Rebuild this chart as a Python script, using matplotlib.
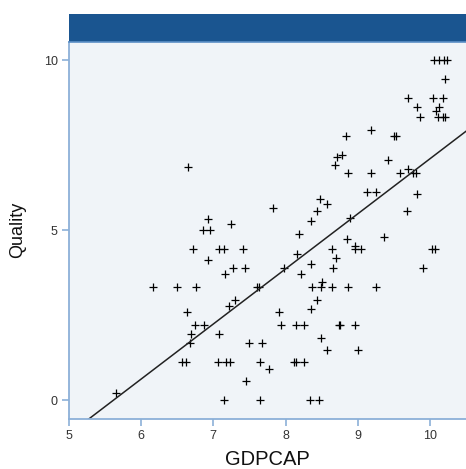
import numpy as np
import matplotlib
matplotlib.use("Agg")
import matplotlib.pyplot as plt
from matplotlib.patches import Rectangle

plt.rcParams["font.family"] = ["Liberation Sans", "DejaVu Sans"]

# GDPCAP (log) vs Quality
gdpcap = [
    10.06, 10.13, 10.20, 10.24, 10.21, 9.70, 10.04, 10.18, 9.82, 10.13,
    10.08, 9.86, 10.11, 10.18, 10.21, 8.84, 9.19, 9.50, 9.53, 8.71,
    8.78, 8.68, 9.42, 8.87, 9.19, 9.58, 9.70, 9.77, 9.81, 9.13,
    9.26, 9.82, 9.68, 8.89, 9.36, 8.85, 8.96, 8.96, 9.05, 8.64,
    10.03, 10.07, 8.70, 8.66, 9.91, 8.65, 8.87, 9.26,
    7.60, 7.63, 8.37, 8.49, 8.50, 7.22, 7.30, 8.44, 8.35, 7.91,
    6.87, 7.94, 8.15, 8.25, 8.74, 8.76, 8.96, 7.08, 7.50, 7.67,
    8.49, 8.58, 9.01, 7.07, 7.18, 7.23, 7.65, 7.77, 8.12, 8.14,
    8.25, 7.45, 7.15, 7.65, 8.34, 8.47, 8.35, 8.19, 7.41, 8.16,
    8.35, 7.98, 7.44, 8.22, 7.83, 8.48, 8.58, 8.44, 6.92, 6.85,
    6.95, 7.24, 7.08, 7.15, 6.93, 7.27, 7.16, 6.65, 6.72, 6.16,
    6.49, 6.76, 6.64, 6.75, 6.69, 6.67, 6.57, 6.62, 5.65,
]
quality = [
    10.00, 10.00, 10.00, 10.00, 9.44, 8.89, 8.89, 8.89, 8.61, 8.61,
    8.50, 8.33, 8.33, 8.33, 8.33, 7.78, 7.96, 7.78, 7.78, 7.15,
    7.22, 6.92, 7.05, 6.67, 6.67, 6.67, 6.81, 6.67, 6.67, 6.11,
    6.11, 6.06, 5.56, 5.37, 4.81, 4.74, 4.53, 4.44, 4.44, 4.44,
    4.44, 4.44, 4.17, 3.89, 3.89, 3.33, 3.33, 3.33,
    3.33, 3.33, 3.33, 3.33, 3.48, 2.76, 2.94, 2.96, 2.69, 2.59,
    2.22, 2.22, 2.22, 2.22, 2.22, 2.22, 2.22, 1.94, 1.67, 1.67,
    1.84, 1.47, 1.47, 1.11, 1.11, 1.11, 1.11, 0.91, 1.11, 1.11,
    1.11, 0.56, 0.00, 0.00, 0.00, 0.00, 5.27, 4.88, 4.44, 4.29,
    4.00, 3.89, 3.89, 3.70, 5.64, 5.93, 5.76, 5.56, 5.32, 5.00,
    5.00, 5.18, 4.44, 4.44, 4.12, 3.89, 3.70, 6.85, 4.44, 3.33,
    3.33, 3.33, 2.59, 2.22, 1.96, 1.67, 1.11, 1.11, 0.21,
]

# fit line as drawn in the reference (Quality = slope * GDPCAP + intercept)
fit_slope = 1.62
fit_intercept = -9.1

x_ticks = [5, 6, 7, 8, 9, 10]
y_ticks = [0, 5, 10]

BG = "#f0f4f8"
BAND = "#1a5590"
AXIS_BLUE = "#8cb0d8"

fig = plt.figure(figsize=(4.66, 4.69), dpi=100)
ax = fig.add_axes([0.148, 0.107, 0.852, 0.803])
ax.set_facecolor(BG)

ax.plot(gdpcap, quality, linestyle="none", marker="+", color="black", ms=6, mew=0.9)

xs = np.array([4.9, 10.6])
ax.plot(xs, fit_slope * xs + fit_intercept, color="#222222", lw=1.1)

ax.set_xlim(5.0, 10.5)
ax.set_ylim(-0.55, 10.53)
ax.set_xticks(x_ticks)
ax.set_yticks(y_ticks)

for s in ["top", "right"]:
    ax.spines[s].set_visible(False)
for s in ["left", "bottom"]:
    ax.spines[s].set_color(AXIS_BLUE)
    ax.spines[s].set_linewidth(1.3)
ax.tick_params(direction="out", length=5, width=1.2, color=AXIS_BLUE,
               labelsize=9, labelcolor="#333333", pad=3)

# axis titles placed in figure pixels to match the reference
fig.text(0.574, 1 - 465 / 469, "GDPCAP", fontsize=14.5, color="#111111",
         ha="center", va="baseline")
fig.text(18 / 466, 0.509, "Quality", fontsize=13, color="#111111",
         ha="center", va="center", rotation=90)

# dark header strip above the plot
band = Rectangle((0.148, 1 - 42 / 469), 0.852, 28 / 469, transform=fig.transFigure,
                 facecolor=BAND, edgecolor="none")
fig.patches.append(band)
fig.add_artist(plt.Line2D([0.148, 1.0], [1 - 42 / 469, 1 - 42 / 469],
                          transform=fig.transFigure, color="#5b8fc6", lw=1.2))

plt.savefig("out.png", dpi=100)
